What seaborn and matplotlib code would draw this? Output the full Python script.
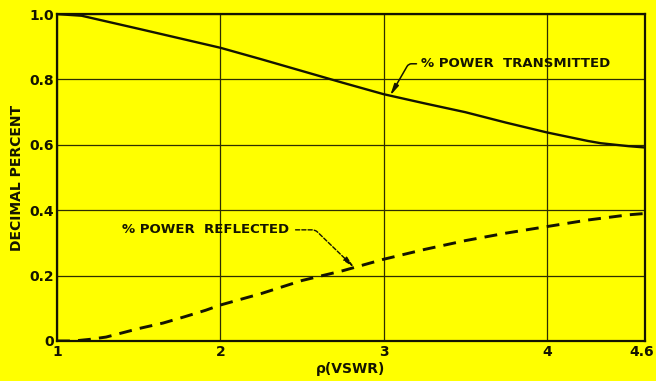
import numpy as np
import pandas as pd
import matplotlib
matplotlib.use("Agg")
import matplotlib.pyplot as plt
import matplotlib.transforms as mtransforms
import seaborn as sns

# VSWR values and power fractions
vswr = [1.0, 1.15, 1.5, 2.0, 2.25, 2.5, 2.75, 3.0, 3.25, 3.5, 3.75, 4.0, 4.25, 4.33, 4.5, 4.6]
transmitted = [1.0, 0.995, 0.955, 0.897, 0.862, 0.826, 0.79, 0.755, 0.727, 0.70, 0.668,
               0.638, 0.612, 0.605, 0.596, 0.592]

vswr_ref = [1.0, 1.1, 1.2, 1.3, 1.5, 1.65, 1.78, 1.91, 2.0, 2.25, 2.5, 2.75, 3.0, 3.25, 3.5,
            3.75, 4.0, 4.25, 4.5, 4.6]
reflected = [0.0, 0.0, 0.005, 0.012, 0.038, 0.055, 0.074, 0.094, 0.11, 0.145, 0.185, 0.215,
             0.25, 0.28, 0.307, 0.33, 0.35, 0.37, 0.386, 0.39]

x_ticks = [1, 2, 3, 4, 4.6]
x_labels = ["1", "2", "3", "4", "4.6"]
y_ticks = [0, 0.2, 0.4, 0.6, 0.8, 1.0]
y_labels = ["0", "0.2", "0.4", "0.6", "0.8", "1.0"]

YELLOW = "#FFFF00"
INK = "#141400"

sns.set_theme(style="white")
plt.rcParams["font.family"] = ["DejaVu Sans"]

fig = plt.figure(figsize=(6.56, 3.81), dpi=100, facecolor=YELLOW)
ax = fig.add_axes([0.087, 0.105, 0.896, 0.858])
ax.set_facecolor(YELLOW)

df_t = pd.DataFrame({"vswr": vswr, "value": transmitted})
df_r = pd.DataFrame({"vswr": vswr_ref, "value": reflected})

sns.lineplot(data=df_t, x="vswr", y="value", color=INK, linewidth=1.7, ax=ax)
sns.lineplot(data=df_r, x="vswr", y="value", color=INK, linewidth=2.1, linestyle="--", ax=ax)
ax.lines[-1].set_dashes((4.4, 2.8))

ax.set_xlim(1, 4.6)
ax.set_ylim(0, 1.0)
ax.set_xticks(x_ticks)
ax.set_xticklabels(x_labels)
ax.set_yticks(y_ticks)
ax.set_yticklabels(y_labels)
ax.tick_params(length=0, pad=3, labelsize=10, colors=INK)
ax.tick_params(axis="y", pad=2)
for lbl in ax.get_xticklabels() + ax.get_yticklabels():
    lbl.set_fontweight("bold")

# keep the last x tick label inside the figure
last = ax.get_xticklabels()[-1]
last.set_transform(last.get_transform() +
                   mtransforms.ScaledTranslation(-3 / 100, 0, fig.dpi_scale_trans))

ax.grid(True, color="#2e2e00", linewidth=0.9)
for sp in ax.spines.values():
    sp.set_visible(True)
    sp.set_color(INK)
    sp.set_linewidth(1.6)

ax.set_xlabel("ρ(VSWR)", fontsize=10, fontweight="bold", color=INK, labelpad=2)
ax.set_ylabel("DECIMAL PERCENT", fontsize=10, fontweight="bold", color=INK, labelpad=4)

# Curve labels with leader arrows
tip_t_x = 3.04
tip_t_y = float(np.interp(tip_t_x, vswr, transmitted))
ax.annotate("% POWER  TRANSMITTED", xy=(tip_t_x, tip_t_y), xytext=(3.23, 0.848),
            fontsize=9.5, fontweight="bold", color=INK, ha="left", va="center",
            arrowprops=dict(arrowstyle="-|>,head_length=0.7,head_width=0.15",
                            color=INK, lw=1.1, shrinkA=1, shrinkB=0,
                            connectionstyle="angle,angleA=0,angleB=60,rad=3"))

tip_r_x = 2.82
tip_r_y = float(np.interp(tip_r_x, vswr_ref, reflected))
ax.annotate("% POWER  REFLECTED", xy=(tip_r_x, tip_r_y), xytext=(1.4, 0.34),
            fontsize=9.5, fontweight="bold", color=INK, ha="left", va="center",
            arrowprops=dict(arrowstyle="-|>,head_length=0.7,head_width=0.15",
                            color=INK, lw=1.0, linestyle=(0, (3, 1.5)), shrinkA=2, shrinkB=0,
                            connectionstyle="angle,angleA=0,angleB=136,rad=3"))

fig.savefig("out.png", dpi=100, facecolor=YELLOW)
